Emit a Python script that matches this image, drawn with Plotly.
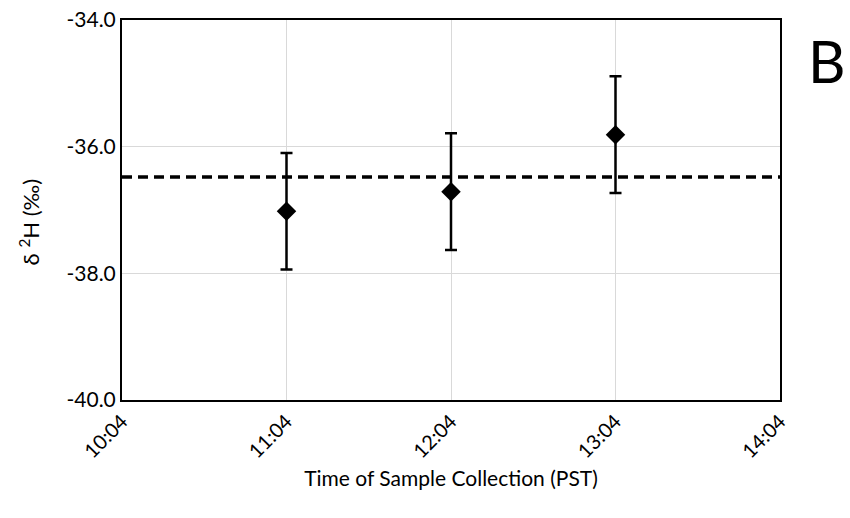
import plotly.graph_objects as go

times = ["2020-01-01 11:04", "2020-01-01 12:04", "2020-01-01 13:04"]
values = [-37.02, -36.71, -35.81]
errors = [0.92, 0.92, 0.92]
ref_value = -36.48
x_range = ["2020-01-01 10:04", "2020-01-01 14:04"]
x_ticks = ["2020-01-01 10:04", "2020-01-01 11:04", "2020-01-01 12:04",
           "2020-01-01 13:04", "2020-01-01 14:04"]
x_tick_labels = ["10:04", "11:04", "12:04", "13:04", "14:04"]
y_ticks = [-40, -38, -36, -34]
y_tick_labels = ["-40.0", "-38.0", "-36.0", "-34.0"]

font = "Lato, 'Open Sans', sans-serif"

fig = go.Figure()
fig.add_trace(go.Scatter(
    x=x_range, y=[ref_value, ref_value], mode="lines",
    line=dict(color="black", width=3.5, dash="10px,6px"),
    showlegend=False, hoverinfo="skip"))
fig.add_trace(go.Scatter(
    x=times, y=values, mode="markers",
    marker=dict(symbol="diamond", size=15, color="black"),
    error_y=dict(type="data", array=errors, visible=True, color="black",
                 thickness=2.5, width=6),
    showlegend=False))

fig.update_layout(
    width=850, height=518,
    margin=dict(l=122, r=70, t=20, b=118),
    plot_bgcolor="white", paper_bgcolor="white",
    font=dict(family=font, color="black", size=20),
    xaxis=dict(type="date", range=x_range, tickvals=x_ticks, ticktext=x_tick_labels,
               tickangle=-45, automargin=False, ticklabeloverflow="allow",
               showgrid=True, gridcolor="#d9d9d9", gridwidth=1,
               showline=True, linecolor="black", linewidth=2, mirror=True,
               ticks="", zeroline=False,
               title=dict(text="Time of Sample Collection (PST)",
                          font=dict(size=21, color="black"), standoff=10),
               tickfont=dict(size=20, color="black")),
    yaxis=dict(range=[-40, -34], tickvals=y_ticks, ticktext=y_tick_labels,
               automargin=False, ticklabeloverflow="allow",
               showgrid=True, gridcolor="#d9d9d9", gridwidth=1,
               showline=True, linecolor="black", linewidth=2, mirror=True,
               ticks="", zeroline=False,
               tickfont=dict(size=21, color="black")),
)
# y-axis title (placed slightly below the axis centre, as in the reference)
fig.add_annotation(text="δ <sup>2</sup>H (‰)", xref="paper", yref="paper",
                   x=-0.141, y=0.468, xanchor="center", yanchor="middle",
                   textangle=-90, showarrow=False,
                   font=dict(size=22, family=font, color="black"))
fig.add_annotation(text="B", xref="paper", yref="paper", x=1.04, y=0.99,
                   xanchor="left", yanchor="top", showarrow=False,
                   font=dict(size=58, family=font, color="black"))

fig.write_html("out.html", config={"displayModeBar": False},
               post_script="document.body.style.margin='0';document.body.style.overflow='hidden';")
